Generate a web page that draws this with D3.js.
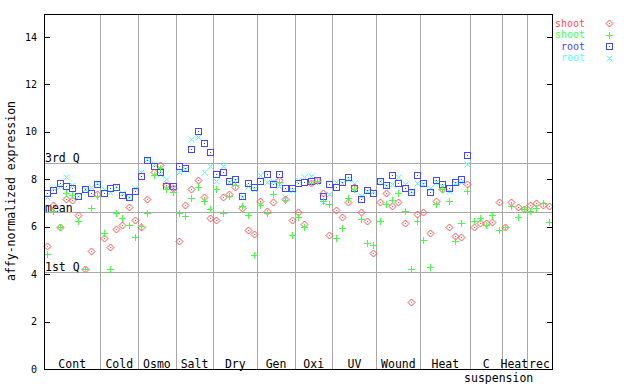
<!DOCTYPE html>
<html><head><meta charset="utf-8">
<script src="https://cdn.jsdelivr.net/npm/d3@7"></script>
<style>body{margin:0;background:#fff}svg{display:block}text{font-family:"DejaVu Sans Mono",monospace}</style>
</head><body><svg id="c" width="640" height="384"></svg>
<script>
const groupNames = ["Cont","Cold","Osmo","Salt","Dry","Gen","Oxi","UV","Wound","Heat","C","Heat","rec"];
const groupSizes = [9,6,6,6,7,6,6,7,7,8,5,4,4];
const yTicks = [0,2,4,6,8,10,12,14];
const refLines = [{label:"3rd Q", v:8.69},{label:"mean", v:6.61},{label:"1st Q", v:4.08}];
const seriesNames = ["shoot","shoot","root","root"];

const shootA = [5.19,6.92,6.00,7.16,7.11,6.49,4.20,4.98,7.38,
 5.51,5.13,5.90,6.06,6.82,6.28,
 5.97,7.16,8.32,8.60,7.76,7.62,
 5.38,6.90,7.58,7.97,7.24,6.35,
 6.27,7.24,7.37,7.66,6.78,5.85,5.68,
 7.08,6.66,7.04,7.97,7.18,6.28,
 6.62,6.11,7.83,7.98,7.41,5.65,
 6.70,6.40,7.03,7.67,6.62,6.23,4.88,
 7.04,7.42,6.87,7.04,6.14,2.81,6.52,
 6.62,5.72,7.08,7.58,5.98,5.61,5.55,7.80,
 5.98,6.14,6.14,6.20,7.03,
 5.98,7.03,6.82,6.73,
 6.90,6.99,6.90,6.86];
const shootB = [4.84,6.66,5.99,7.44,7.33,6.24,4.20,6.78,7.31,
 5.72,4.20,6.57,6.38,6.06,5.55,
 6.03,6.57,8.18,8.46,7.58,7.45,
 6.57,6.44,7.20,7.66,7.07,6.73,
 7.58,6.57,7.28,7.76,6.87,6.48,4.79,
 6.90,6.57,7.38,7.90,7.13,5.64,
 6.42,5.98,7.86,7.92,7.08,6.94,
 5.51,5.93,7.20,7.60,6.31,5.30,5.22,
 6.24,6.94,7.13,7.41,6.66,4.20,6.24,
 5.44,4.30,6.94,7.60,7.07,5.38,6.14,7.49,
 6.24,6.35,6.06,6.48,5.86,
 5.98,6.86,6.40,6.73,
 6.65,6.78,7.00,6.19];
const rootA = [7.41,7.53,7.83,7.70,7.65,7.30,7.58,7.41,7.82,
 7.41,7.62,7.69,7.34,7.24,7.51,
 8.14,8.80,8.55,8.32,7.72,7.73,
 8.56,8.49,9.26,10.02,9.52,9.14,
 8.21,8.31,7.93,8.00,7.28,7.83,7.66,
 7.92,8.21,7.79,8.21,7.62,7.62,
 7.83,7.87,7.94,7.97,7.30,7.79,
 7.66,7.87,8.08,7.62,7.18,7.53,7.44,
 7.94,7.76,8.17,7.83,7.65,7.45,8.17,
 7.83,7.45,7.98,7.79,7.62,7.90,8.00,9.01,
 null,null,null,null,null,
 null,null,null,null,
 null,null,null,null];
const rootB = [7.24,7.65,7.70,8.08,7.77,7.30,7.60,7.68,7.85,
 7.58,7.48,7.72,7.44,7.26,7.63,
 8.30,8.85,8.65,8.22,8.00,7.63,
 8.32,8.45,9.69,9.80,8.31,8.56,
 7.93,8.56,7.90,7.95,7.25,7.72,7.58,
 8.16,7.90,7.94,7.73,7.27,7.55,
 7.97,8.11,8.14,7.88,7.06,7.37,
 7.87,7.85,8.00,7.83,7.30,7.50,7.52,
 7.94,7.70,7.79,8.11,7.79,7.50,7.86,
 7.80,7.62,7.90,7.70,7.51,7.85,7.90,8.63,
 null,null,null,null,null,
 null,null,null,null,
 null,null,null,null];

const colors = ["#ff4c4c","#44ff44","#4646ff","#55ffff"];
const L=44,R=552,B=369,T=14;
const svg = d3.select("#c");
const n = d3.sum(groupSizes);
const x = d3.scaleBand().domain(d3.range(n)).range([L,R]).padding(0);
const y = d3.scaleLinear().domain([0,14]).range([B,37]);
const cx = i => x(i)+x.bandwidth()/2;

const bounds = []; let acc=0;
groupSizes.forEach((s,k)=>{bounds.push({start:acc,end:acc+s,name:groupNames[k]}); acc+=s;});

const g = svg.append("g").attr("shape-rendering","crispEdges");
g.selectAll("line.sep").data(bounds.slice(0,-1)).enter().append("line")
 .attr("x1",d=>Math.round(x(d.end))+0.5).attr("x2",d=>Math.round(x(d.end))+0.5)
 .attr("y1",T).attr("y2",B).attr("stroke","#a8a8a8");
g.selectAll("line.ref").data(refLines).enter().append("line")
 .attr("x1",L).attr("x2",R).attr("y1",d=>Math.round(y(d.v))+0.5).attr("y2",d=>Math.round(y(d.v))+0.5)
 .attr("stroke","#a8a8a8");
svg.selectAll("text.ref").data(refLines).enter().append("text")
 .attr("x",L+1).attr("y",d=>Math.round(y(d.v))-(d.label==="mean"?0:1)).attr("font-size",11.5).text(d=>d.label);

function diamond(sel,col){
  sel.append("path").attr("d","M0.5,-3L4,0.5L0.5,4L-3,0.5Z").attr("fill","none").attr("stroke",col).attr("stroke-width",1);
  sel.append("rect").attr("x",0).attr("y",0).attr("width",1).attr("height",1).attr("fill",col);
}
function plus(sel,col){
  sel.append("path").attr("d","M-3,0.5H4M0.5,-3V4").attr("stroke",col).attr("stroke-width",1).attr("shape-rendering","crispEdges");
}
function square(sel,col){
  sel.append("rect").attr("x",-2.5).attr("y",-2.5).attr("width",6).attr("height",6).attr("fill","none").attr("stroke",col).attr("stroke-width",1).attr("shape-rendering","crispEdges");
  sel.append("rect").attr("x",0).attr("y",0).attr("width",1).attr("height",1).attr("fill",col).attr("shape-rendering","crispEdges");
}
function cross(sel,col){
  sel.append("path").attr("d","M-2.5,-2.5L3.5,3.5M3.5,-2.5L-2.5,3.5").attr("stroke",col).attr("stroke-width",1);
}
const drawers=[diamond,plus,square,cross];
const allSeries=[shootA,shootB,rootA,rootB];
[3,2,0,1].forEach(s=>{
  const pts = allSeries[s].map((v,i)=>({v,i})).filter(d=>d.v!=null);
  pts.forEach(d=>{
    const m = svg.append("g").attr("transform",`translate(${Math.round(cx(d.i))},${Math.round(y(d.v))})`);
    drawers[s](m,colors[s]);
  });
});

const ax = svg.append("g").attr("shape-rendering","crispEdges");
ax.append("rect").attr("x",L+0.5).attr("y",T+0.5).attr("width",R-L).attr("height",B-T).attr("fill","none").attr("stroke","#000");
yTicks.forEach(t=>{
  const yy=Math.round(y(t))+0.5;
  ax.append("line").attr("x1",L).attr("x2",L+6).attr("y1",yy).attr("y2",yy).attr("stroke","#000");
  ax.append("line").attr("x1",R-5).attr("x2",R).attr("y1",yy).attr("y2",yy).attr("stroke","#000");
});
svg.selectAll("text.yt").data(yTicks).enter().append("text")
 .attr("x",37).attr("y",d=>y(d)+3.5).attr("text-anchor","end").attr("font-size",10).text(d=>d);
svg.append("text").attr("transform","translate(15,191) rotate(-90)").attr("text-anchor","middle").attr("font-size",11.5)
 .text("affy-normalized expression");

svg.selectAll("text.cat").data(bounds).enter().append("text")
 .attr("x",d=>(x(d.start)+x(d.end-1)+x.bandwidth())/2).attr("y",368).attr("text-anchor","middle").attr("font-size",11.5)
 .text(d=>d.name);
svg.append("text").attr("x",(x(bounds[10].start)+x(bounds[11].end-1)+x.bandwidth())/2).attr("y",382).attr("text-anchor","middle").attr("font-size",11.5).text("suspension");

const legY=[23,34.5,46,57.5];
seriesNames.forEach((nm,k)=>{
  svg.append("text").attr("x",585).attr("y",legY[k]+3.5).attr("text-anchor","end").attr("font-size",10).attr("fill",colors[k]).text(nm);
  const m = svg.append("g").attr("transform",`translate(609,${Math.round(legY[k])})`);
  drawers[k](m,colors[k]);
});
</script></body></html>
